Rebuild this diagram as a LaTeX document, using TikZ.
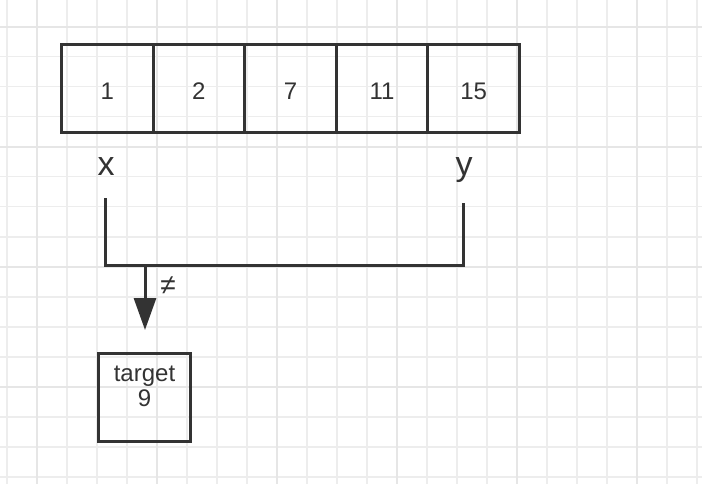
\documentclass[tikz,border=0pt]{standalone}
\usepackage{fontspec}
\setmainfont{Liberation Sans}
\usetikzlibrary{arrows.meta}
\definecolor{ink}{HTML}{333333}
\definecolor{gridminor}{HTML}{EDEDED}
\definecolor{gridmajor}{HTML}{E6E6E6}
\tikzset{
  cell/.style={draw=ink, line width=3pt, minimum width=91.6pt, minimum height=88.5pt,
    inner sep=0pt, text=ink, font=\fontsize{24}{28}\selectfont, text height=21.6pt, text depth=0pt},
  ptr/.style={text=ink, font=\fontsize{34}{38}\selectfont, inner sep=0pt, anchor=base},
  wire/.style={draw=ink, line width=3pt},
  tbox/.style={draw=ink, line width=3pt, minimum width=92pt, minimum height=88pt, inner sep=0pt},
  ttext/.style={text=ink, font=\fontsize{24}{26}\selectfont, inner sep=0pt, anchor=base},
}
\begin{document}
\begin{tikzpicture}[x=1pt, y=-1pt]
\useasboundingbox (0,0) rectangle (702,484);
\fill[white] (0,0) rectangle (702,484);
% grid
\foreach \i in {0,...,23} {
  \draw[gridminor, line width=1.6pt] ({6.7+30*\i},0) -- ({6.7+30*\i},484);
}
\foreach \i in {0,...,15} {
  \draw[gridminor, line width=1.6pt] (0,{26.7+30*\i}) -- (702,{26.7+30*\i});
}
\foreach \i in {0,...,5} {
  \draw[gridmajor, line width=1.8pt] ({36.7+120*\i},0) -- ({36.7+120*\i},484);
}
\foreach \i in {0,...,3} {
  \draw[gridmajor, line width=1.8pt] (0,{26.7+120*\i}) -- (702,{26.7+120*\i});
}
% array
\node[cell] (c1) at (107.3,88.75) {1};
\node[cell] (c2) at (198.9,88.75) {2};
\node[cell] (c3) at (290.5,88.75) {7};
\node[cell] (c4) at (382.1,88.75) {11};
\node[cell] (c5) at (473.7,88.75) {15};
% pointers
\node[ptr] (px) at (106,176) {x};
\node[ptr] (py) at (464,176) {y};
% bracket
\coordinate (xl) at (105,198.5);
\coordinate (yl) at (463,203);
\coordinate (bl) at (105,265);
\coordinate (br) at (463,265);
\coordinate (am) at (145,265);
\draw[wire, line join=miter] (xl) -- (bl) -- (br) -- (yl);
% target
\node[tbox] (tgt) at (144.5,397.5) {};
\node[ttext] (tl1) at (144.5,381) {target};
\node[ttext] (tl2) at (144.5,406) {9};
% arrow
\draw[wire, -{Triangle[length=32pt,width=22pt]}] (am) -- ([yshift=22pt]tgt.north -| am);
\node[text=ink, font=\fontsize{28}{30}\selectfont, inner sep=0pt] (ne) at (168,286) {≠};
\end{tikzpicture}
\end{document}
